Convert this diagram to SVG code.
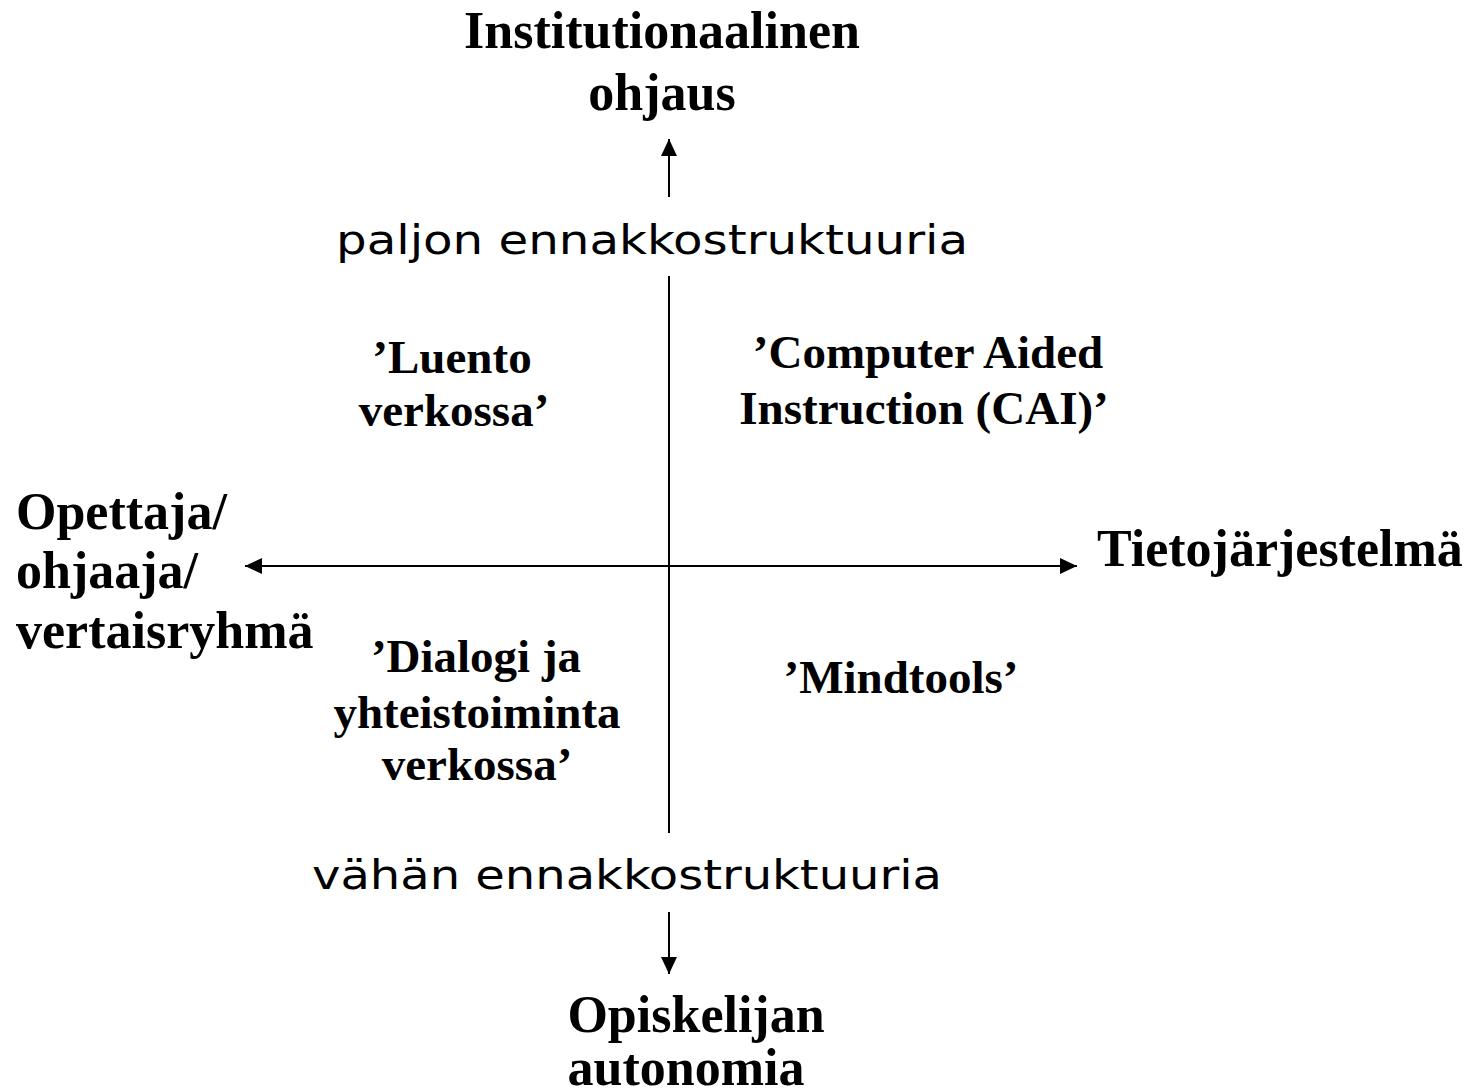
<svg xmlns="http://www.w3.org/2000/svg" width="1479" height="1092" viewBox="0 0 1479 1092">
<style>
.ax{font-family:"Liberation Serif","Times New Roman",serif;font-weight:bold;font-size:52px;fill:#000}
.q{font-family:"Liberation Serif","Times New Roman",serif;font-weight:bold;font-size:47px;fill:#000}
.s{font-family:"DejaVu Sans Condensed","DejaVu Sans","Liberation Sans",sans-serif;font-stretch:condensed;font-size:40px;fill:#000}
.ln{stroke:#000;stroke-width:2;fill:none}
</style>
<defs>
<marker id="ah" markerUnits="userSpaceOnUse" markerWidth="18" markerHeight="16" refX="17" refY="8" orient="auto">
<path d="M0,0 L17,8 L0,16 Z" fill="#000"/>
</marker>
</defs>
<rect width="1479" height="1092" fill="#fff"/>
<g id="connectors">
<line class="ln" x1="669" y1="197" x2="669" y2="139" marker-end="url(#ah)"/>
<line class="ln" x1="669" y1="276" x2="669" y2="833"/>
<line class="ln" x1="669" y1="912" x2="669" y2="974" marker-end="url(#ah)"/>
<line class="ln" x1="669" y1="566" x2="245" y2="566" marker-end="url(#ah)"/>
<line class="ln" x1="669" y1="566" x2="1077" y2="566" marker-end="url(#ah)"/>
</g>
<g id="top">
<text class="ax" x="662" y="48" text-anchor="middle">Institutionaalinen</text>
<text class="ax" x="662" y="110" text-anchor="middle">ohjaus</text>
</g>
<g id="top-sub">
<text class="s" x="336" y="254" textLength="632" lengthAdjust="spacingAndGlyphs">paljon ennakkostruktuuria</text>
</g>
<g id="bottom-sub">
<text class="s" x="312" y="889" textLength="630" lengthAdjust="spacingAndGlyphs">vähän ennakkostruktuuria</text>
</g>
<g id="bottom">
<text class="ax" x="696" y="1032" text-anchor="middle">Opiskelijan</text>
<text class="ax" x="686" y="1085" text-anchor="middle">autonomia</text>
</g>
<g id="left">
<text class="ax" x="16" y="529">Opettaja/</text>
<text class="ax" x="16" y="588">ohjaaja/</text>
<text class="ax" x="16" y="648">vertaisryhmä</text>
</g>
<g id="right">
<text class="ax" x="1097" y="566">Tietojärjestelmä</text>
</g>
<g id="q-luento">
<text class="q" x="452" y="373" text-anchor="middle">’Luento</text>
<text class="q" x="454" y="426" text-anchor="middle">verkossa’</text>
</g>
<g id="q-cai">
<text class="q" x="928" y="368" text-anchor="middle">’Computer Aided</text>
<text class="q" x="924" y="424" text-anchor="middle">Instruction (CAI)’</text>
</g>
<g id="q-dialogi">
<text class="q" x="476" y="672" text-anchor="middle">’Dialogi ja</text>
<text class="q" x="477" y="728" text-anchor="middle">yhteistoiminta</text>
<text class="q" x="477" y="780" text-anchor="middle">verkossa’</text>
</g>
<g id="q-mindtools">
<text class="q" x="901" y="693" text-anchor="middle">’Mindtools’</text>
</g>
</svg>
